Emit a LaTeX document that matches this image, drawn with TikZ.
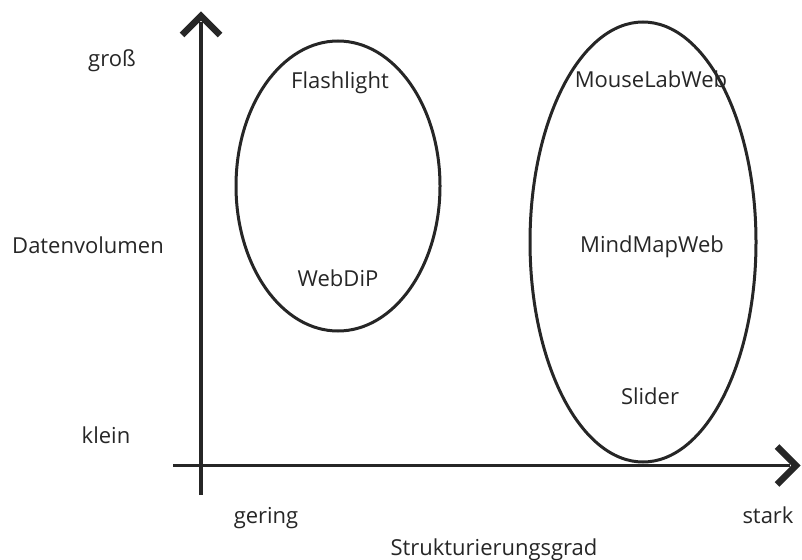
\documentclass[tikz,border=0pt]{standalone}
\usepackage{fontspec}
\setmainfont{Open Sans}
\usetikzlibrary{calc}
\begin{document}
\begin{tikzpicture}[x=1pt,y=-1pt,
  axis/.style={line width=3.3pt,draw=black!85},
  chev/.style={line width=6.5pt,draw=black!85,line cap=butt,line join=miter},
  ell/.style={line width=3pt,draw=black!85},
  lbl/.style={font=\fontsize{22}{26}\selectfont,text=black!85,inner sep=0pt,anchor=base}]
\useasboundingbox (0,0) rectangle (802,559);
\coordinate (ytop) at (201,16);
\coordinate (ybot) at (201,495);
\coordinate (xl) at (173,465.5);
\coordinate (xr) at (796,465.5);
\draw[axis] (ybot) -- (201,22);
\draw[axis] (xl) -- (790,465.5);
\draw[chev] ($(ytop)+(-19,19)$) -- (ytop) -- ($(ytop)+(19,19)$);
\draw[chev] ($(xr)+(-19,-19)$) -- (xr) -- ($(xr)+(-19,19)$);
\draw[ell] (338,186) ellipse [x radius=102, y radius=145];
\draw[ell] (643,242) ellipse [x radius=113, y radius=220];
\node[lbl] (gross) at (112,67) {groß};
\node[lbl] (dv) at (88,253) {Datenvolumen};
\node[lbl] (klein) at (106,443) {klein};
\node[lbl] (gering) at (266,523) {gering};
\node[lbl] (stark) at (768,523) {stark};
\node[lbl] (sg) at (494,555) {Strukturierungsgrad};
\node[lbl] (fl) at (340,89) {Flashlight};
\node[lbl] (wd) at (338,286) {WebDiP};
\node[lbl] (mlw) at (651,88) {MouseLabWeb};
\node[lbl] (mmw) at (652,252) {MindMapWeb};
\node[lbl] (sl) at (650,404) {Slider};
\end{tikzpicture}
\end{document}
